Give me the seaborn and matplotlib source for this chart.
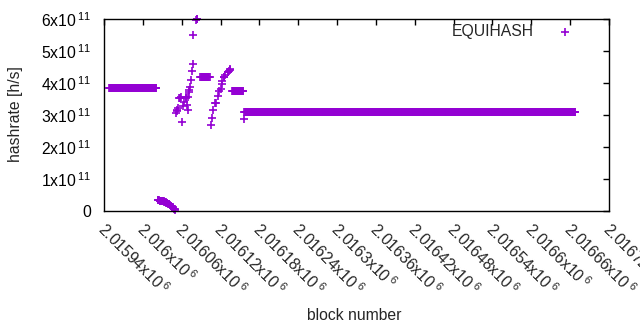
import numpy as np
import pandas as pd
import seaborn as sns
import matplotlib
matplotlib.use("Agg")
import matplotlib.pyplot as plt
from matplotlib.transforms import ScaledTranslation

# hashrate values are in units of 1e11 h/s
flat_start = [2015948, 2016089, 2016138, 2016157]
flat_end = [2016021, 2016103, 2016155, 2016668]
flat_rate = [3.83, 4.18, 3.74, 3.08]

drop_start = 2016023
drop_rate = [0.33, 0.33, 0.33, 0.32, 0.32, 0.32, 0.31, 0.31, 0.30, 0.30,
             0.29, 0.28, 0.27, 0.26, 0.25, 0.24, 0.23, 0.22, 0.21, 0.19,
             0.17, 0.15, 0.13, 0.11, 0.09, 0.07, 0.05, 0.03]

jump_blocks = [2016051, 2016052, 2016053, 2016054, 2016056, 2016058, 2016059,
               2016061, 2016062, 2016064, 2016066, 2016067, 2016068, 2016069,
               2016070, 2016071, 2016072, 2016073, 2016074, 2016076, 2016077,
               2016078, 2016082, 2016083, 2016084]
jump_rate = [3.07, 3.13, 3.15, 3.21, 3.52, 3.52, 3.55, 2.77, 3.28, 3.40,
             3.53, 3.55, 3.31, 3.16, 3.57, 3.71, 3.78, 3.88, 4.09, 4.37,
             4.58, 5.50, 5.98, 6.00, 5.99]

climb_blocks = [2016105, 2016107, 2016109, 2016111, 2016113, 2016116, 2016118,
                2016120, 2016122, 2016123, 2016125, 2016126, 2016127, 2016131,
                2016132, 2016133, 2016134, 2016135, 2016156]
climb_rate = [2.69, 2.90, 3.16, 3.37, 3.39, 3.59, 3.76, 3.80, 3.97, 4.07,
              4.18, 4.20, 4.25, 4.33, 4.35, 4.38, 4.42, 4.43, 2.87]

xtick_vals = [2015940, 2016000, 2016060, 2016120, 2016180, 2016240, 2016300,
              2016360, 2016420, 2016480, 2016540, 2016600, 2016660, 2016720]
xtick_text = ["2.01594", "2.016", "2.01606", "2.01612", "2.01618", "2.01624",
              "2.0163", "2.01636", "2.01642", "2.01648", "2.01654", "2.0166",
              "2.01666", "2.01672"]
ytick_vals = [0, 1e11, 2e11, 3e11, 4e11, 5e11, 6e11]
ytick_text = ["0", "1", "2", "3", "4", "5", "6"]

sns.set_style("white")
plt.rcParams["font.family"] = ["Liberation Sans", "DejaVu Sans"]
plt.rcParams["mathtext.fontset"] = "custom"
plt.rcParams["mathtext.rm"] = "Liberation Sans"
plt.rcParams["mathtext.it"] = "Liberation Sans:italic"

parts = []
for s, e, r in zip(flat_start, flat_end, flat_rate):
    b = np.arange(s, e + 1)
    parts.append(pd.DataFrame({"block": b, "rate": r}))
parts.append(pd.DataFrame({"block": drop_start + np.arange(len(drop_rate)),
                           "rate": drop_rate}))
parts.append(pd.DataFrame({"block": jump_blocks, "rate": jump_rate}))
parts.append(pd.DataFrame({"block": climb_blocks, "rate": climb_rate}))
df = pd.concat(parts, ignore_index=True)
df["rate"] = df["rate"] * 1e11

fs = 11.3
color = "#9400d3"

fig = plt.figure(figsize=(6.4, 3.3), dpi=100)
ax = fig.add_axes([104 / 640, 1 - 211 / 330, 505 / 640, 192 / 330])

sns.scatterplot(data=df, x="block", y="rate", marker="+", s=36, linewidth=1.2,
                color=color, label="EQUIHASH", clip_on=False, ax=ax)

ax.set_xlim(2015940, 2016720)
ax.set_ylim(0, 6e11)
ax.set_xticks(xtick_vals)
ax.set_yticks(ytick_vals)
ax.set_yticklabels(["0"] + [r"$\mathrm{%sx10}^{\;11}$" % t for t in ytick_text[1:]],
                   fontsize=fs)
ax.tick_params(direction="in", top=True, right=True, length=4, width=1,
               colors="black", labelbottom=False)
ax.tick_params(axis="y", pad=9)
for sp in ax.spines.values():
    sp.set_color("black")
    sp.set_linewidth(1)
ax.set_xlabel("")
ax.set_ylabel("")

# rotated x tick labels, anchored at the baseline of the first digit
off = ScaledTranslation(-7.9 / 100, -19.9 / 100, fig.dpi_scale_trans)
for v, t in zip(xtick_vals, xtick_text):
    ax.text(v, 0, r"$\mathrm{%sx10}^{\;6}$" % t,
            transform=ax.get_xaxis_transform() + off, rotation=-45,
            rotation_mode="anchor", ha="left", va="baseline", fontsize=fs,
            clip_on=False)

fig.text(16 / 640, 1 - 114 / 330, "hashrate [h/s]", rotation=90,
         ha="center", va="center", fontsize=fs)
fig.text(354 / 640, 1 - 316 / 330, "block number", ha="center", va="center",
         fontsize=fs)

ax.legend(loc="upper right", bbox_to_anchor=(0.944, 0.974), frameon=False,
          markerfirst=False, handlelength=2, handletextpad=1.0,
          borderpad=0, borderaxespad=0, fontsize=fs)

fig.savefig("out.png", dpi=100)
